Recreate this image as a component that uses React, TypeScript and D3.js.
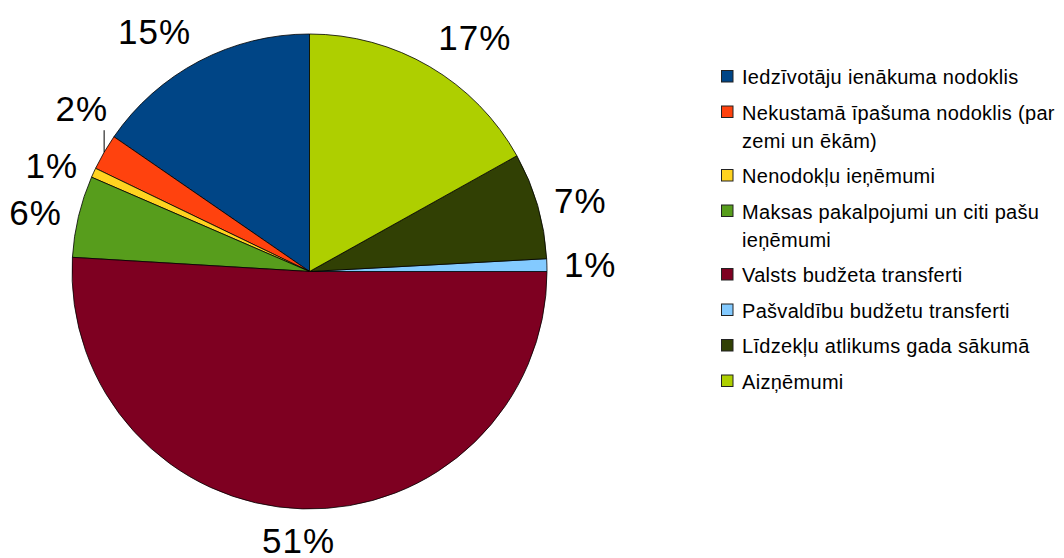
import React, { useEffect, useRef } from "react";
import * as d3 from "d3";

const categories = [
  "Iedzīvotāju ienākuma nodoklis",
  "Nekustamā īpašuma nodoklis (par zemi un ēkām)",
  "Nenodokļu ieņēmumi",
  "Maksas pakalpojumi un citi pašu ieņēmumi",
  "Valsts budžeta transferti",
  "Pašvaldību budžetu transferti",
  "Līdzekļu atlikums gada sākumā",
  "Aizņēmumi",
];

// legend text as it wraps in the original
const legendLines = [
  ["Iedzīvotāju ienākuma nodoklis"],
  ["Nekustamā īpašuma nodoklis (par", "zemi un ēkām)"],
  ["Nenodokļu ieņēmumi"],
  ["Maksas pakalpojumi un citi pašu", "ieņēmumi"],
  ["Valsts budžeta transferti"],
  ["Pašvaldību budžetu transferti"],
  ["Līdzekļu atlikums gada sākumā"],
  ["Aizņēmumi"],
];

const shares = [15.4, 2.45, 0.65, 5.55, 50.95, 0.86, 7.24, 16.9];

const colors = [
  "#004586",
  "#ff420e",
  "#ffd320",
  "#579d1c",
  "#7e0021",
  "#83caff",
  "#314004",
  "#aecf00",
];

const App = () => {
  const ref = useRef(null);
  const width = 1064;
  const height = 558;

  useEffect(() => {
    let svg = d3.select(ref.current);
    svg.selectAll("*").remove();

    let font = "'Liberation Sans', Arial, sans-serif";
    let cx = 309.5;
    let cy = 271.5;
    let radius = 237.5;

    let pie = d3
      .pie()
      .sort(null)
      .value((d) => d)
      .startAngle(0)
      .endAngle(-2 * Math.PI);
    let arcs = pie(shares);
    let total = d3.sum(shares);

    let arc = d3.arc().innerRadius(0).outerRadius(radius);

    let plot = svg.append("g").attr("transform", `translate(${cx},${cy})`);

    plot
      .selectAll("path.slice")
      .data(arcs)
      .enter()
      .append("path")
      .classed("slice", true)
      .attr("d", arc)
      .attr("fill", (d, i) => colors[i])
      .attr("stroke", "#000")
      .attr("stroke-width", 0.8)
      .attr("stroke-linejoin", "round");

    // percent labels outside the pie
    let fs = 35;
    let cap = fs * 0.716;
    let boxH = 30;
    let clamp = (v) => Math.max(-1, Math.min(1, v));

    let labels = arcs.map((d, i) => {
      let mid = (d.startAngle + d.endAngle) / 2;
      let ux = Math.sin(mid);
      let uy = -Math.cos(mid);
      let r = radius + 17;
      let sx = clamp(ux * 3);
      let sy = Math.sign(uy) * Math.max(0, Math.min(1, (Math.abs(uy) - 0.5) * 4));
      return {
        i,
        ux,
        uy,
        px: ux * r,
        py: uy * r,
        sx,
        sy,
        text: Math.round((d.value / total) * 100) + "%",
        moved: false,
      };
    });

    let texts = plot
      .selectAll("text.pct")
      .data(labels)
      .enter()
      .append("text")
      .classed("pct", true)
      .attr("font-family", font)
      .attr("font-size", fs)
      .attr("letter-spacing", 1)
      .attr("fill", "#000")
      .attr("text-anchor", "middle")
      .text((d) => d.text);

    texts.each(function (d) {
      d.w = this.getComputedTextLength();
      d.x = d.px + (d.w / 2) * d.sx;
      d.y = d.py + (boxH / 2) * d.sy;
    });

    // labels that collide are lifted up with a leader line
    [-1, 1].forEach((side) => {
      let group = labels
        .filter((d) => Math.sign(d.ux) === side)
        .sort((a, b) => b.y - a.y);
      for (let k = 1; k < group.length; k++) {
        let lower = group[k - 1];
        let cur = group[k];
        let overlapX = Math.abs(cur.x - lower.x) < (cur.w + lower.w) / 2;
        if (overlapX && lower.y - cur.y < boxH) {
          let ex = cur.ux * radius;
          let ey = cur.uy * radius;
          cur.moved = true;
          cur.lx = ex;
          cur.ly0 = ey;
          cur.ly1 = ey - 22;
          cur.x = ex + 4 - cur.w / 2;
          cur.y = ey - 31.5 - cap / 2;
        }
      }
    });

    texts
      .attr("x", (d) => d.x)
      .attr("y", (d) => Math.min(d.y + cap / 2, 552));

    plot
      .selectAll("line.leader")
      .data(labels.filter((d) => d.moved))
      .enter()
      .append("line")
      .classed("leader", true)
      .attr("x1", (d) => d.lx)
      .attr("x2", (d) => d.lx)
      .attr("y1", (d) => d.ly0)
      .attr("y2", (d) => d.ly1)
      .attr("stroke", "#000")
      .attr("stroke-width", 1);

    // legend
    let lineH = 28;
    let gap = 7.5;
    let tops = [];
    let t = 70;
    legendLines.forEach((lines) => {
      tops.push(t);
      t += lines.length * lineH + gap;
    });

    let legend = svg.append("g").attr("transform", "translate(721,0)");

    let items = legend
      .selectAll("g.item")
      .data(categories)
      .enter()
      .append("g")
      .classed("item", true)
      .attr("transform", (d, i) => `translate(0,${tops[i]})`);

    items
      .append("rect")
      .attr("x", 0.5)
      .attr("y", 0.5)
      .attr("width", 11.5)
      .attr("height", 11.5)
      .attr("fill", (d, i) => colors[i])
      .attr("stroke", "#222")
      .attr("stroke-width", 1);

    items
      .append("text")
      .attr("font-family", font)
      .attr("font-size", 20)
      .attr("letter-spacing", 0.3)
      .attr("fill", "#000")
      .selectAll("tspan")
      .data((d, i) => legendLines[i])
      .enter()
      .append("tspan")
      .attr("x", 21)
      .attr("y", (d, j) => 14 + j * lineH)
      .text((d) => d);
  }, []);

  return (
    <svg
      ref={ref}
      width={width}
      height={height}
      style={{ position: "absolute", left: 0, top: 0, background: "#fff" }}
    />
  );
};

export default App;
